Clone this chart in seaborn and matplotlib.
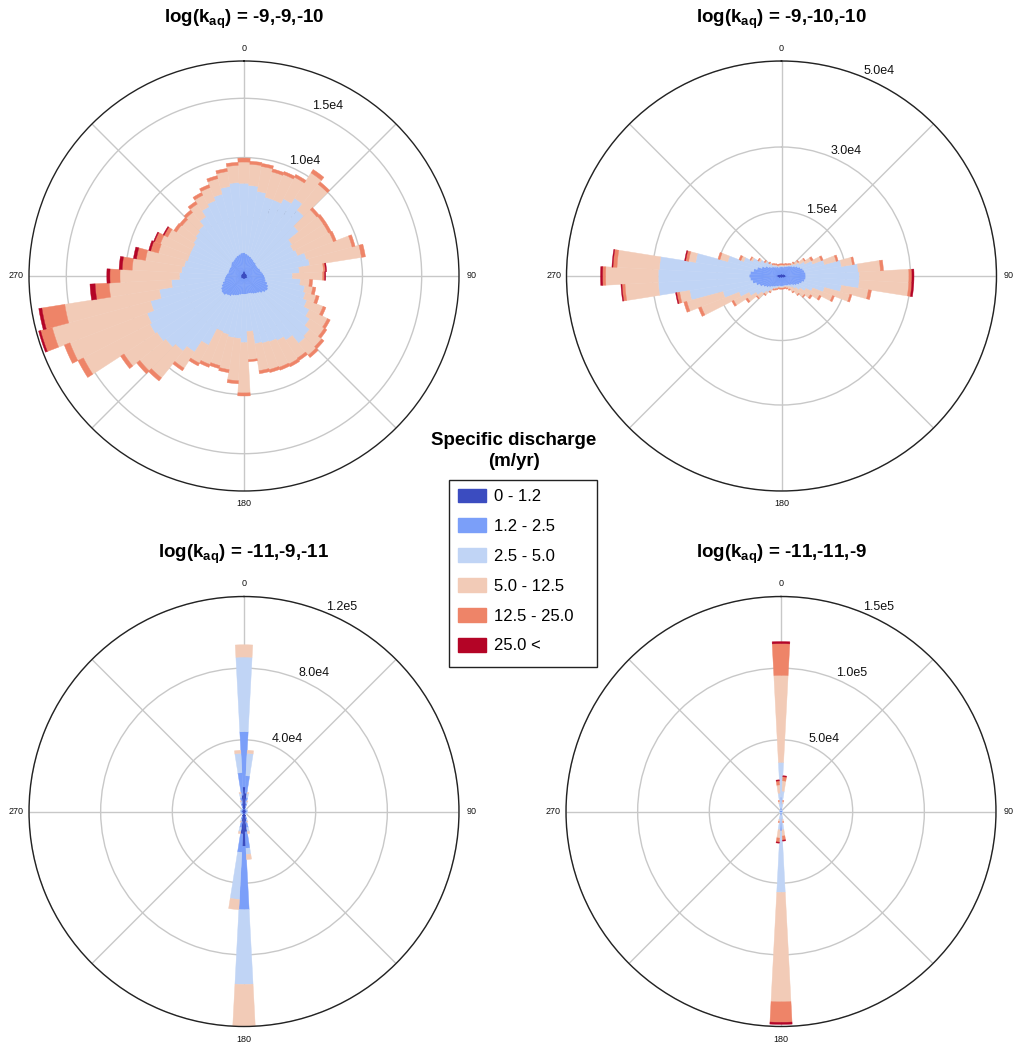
import numpy as np
import matplotlib
matplotlib.use("Agg")
import matplotlib.pyplot as plt
import seaborn as sns
from matplotlib.patches import Patch, Rectangle

sns.set_theme(style="white")
plt.rcParams["font.family"] = ["Liberation Sans", "DejaVu Sans"]
plt.rcParams["text.color"] = "black"
plt.rcParams["mathtext.fontset"] = "custom"
plt.rcParams["mathtext.rm"] = "Liberation Sans"
plt.rcParams["mathtext.bf"] = "Liberation Sans:bold"
plt.rcParams["mathtext.it"] = "Liberation Sans:italic"

# 60 direction sectors of 6 degrees, clockwise from north
directions = np.arange(0, 360, 6)
classes = ["0 - 1.2", "1.2 - 2.5", "2.5 - 5.0", "5.0 - 12.5", "12.5 - 25.0", "25.0 <"]

# ---- log(k_aq) = -9,-9,-10 : counts per direction and discharge class ----
p1_q1 = [510, 420, 340, 340, 260, 260, 260, 260, 260, 260,
         260, 260, 260, 260, 260, 260, 260, 260, 260, 340,
         340, 340, 260, 260, 260, 260, 260, 260, 260, 260,
         260, 260, 260, 260, 260, 260, 260, 260, 340, 340,
         340, 260, 260, 260, 260, 260, 260, 260, 260, 260,
         260, 260, 260, 260, 260, 260, 260, 340, 340, 420]
p1_q2 = [1450, 1450, 1450, 1360, 1360, 1280, 1190, 1190, 1100, 1100,
         1100, 1190, 1190, 1280, 1360, 1450, 1530, 1620, 1790, 1870,
         1960, 1870, 1790, 1620, 1530, 1450, 1360, 1280, 1280, 1280,
         1280, 1280, 1360, 1450, 1530, 1620, 1790, 1870, 1960, 1960,
         1870, 1790, 1620, 1450, 1360, 1280, 1190, 1100, 1100, 1100,
         1100, 1100, 1190, 1280, 1280, 1360, 1450, 1450, 1530, 1530]
p1_q3 = [5870, 5780, 5440, 5190, 5270, 5780, 6380, 5700, 4590, 3490,
         3320, 3400, 4000, 4080, 3060, 2380, 2980, 3320, 3320, 3490,
         3910, 4420, 5100, 5440, 4680, 4420, 4340, 4340, 4250, 3150,
         4080, 3740, 3660, 3400, 3230, 4680, 5610, 6040, 6210, 6460,
         6720, 6720, 6290, 5530, 4510, 3910, 3830, 3740, 3570, 3570,
         3570, 3740, 3830, 3910, 4420, 4930, 5100, 5360, 5780, 5950]
p1_q4 = [1790, 1790, 2130, 2210, 2300, 2040, 2550, 2810, 1960, 3150,
         3320, 3230, 4000, 4420, 2040, 2550, 770, 680, 940, 1450,
         1700, 1450, 1280, 1280, 1790, 2210, 2300, 2300, 2300, 2380,
         4250, 3570, 2720, 2720, 2980, 1700, 1620, 2890, 2810, 3320,
         6290, 6970, 8590, 8080, 5270, 5020, 4170, 3320, 2550, 2640,
         2300, 1700, 1450, 1450, 1280, 1100, 1190, 1360, 1280, 1450]
p1_q5 = [340, 260, 260, 260, 260, 260, 340, 260, 260, 260,
         260, 260, 260, 340, 170, 170, 260, 260, 260, 260,
         260, 260, 260, 260, 260, 260, 260, 260, 260, 170,
         260, 260, 260, 260, 260, 260, 260, 340, 340, 340,
         510, 510, 1020, 1960, 1190, 850, 850, 770, 680, 510,
         340, 260, 260, 260, 260, 260, 260, 260, 260, 260]
p1_q6 = [0, 0, 0, 0, 0, 0, 0, 0, 0, 0,
         0, 0, 0, 0, 90, 90, 0, 0, 0, 0,
         0, 0, 0, 0, 0, 0, 0, 0, 0, 0,
         0, 0, 0, 0, 0, 0, 0, 0, 0, 0,
         0, 0, 170, 260, 430, 260, 260, 260, 170, 90,
         90, 0, 0, 0, 0, 0, 0, 0, 0, 0]

# ---- log(k_aq) = -9,-10,-10 ----
p2_q1 = [470, 470, 470, 470, 470, 470, 470, 470, 710, 710,
         710, 710, 940, 940, 940, 1180, 1180, 940, 940, 940,
         710, 710, 710, 470, 470, 470, 470, 470, 470, 470,
         470, 470, 470, 470, 470, 470, 470, 710, 710, 710,
         710, 940, 940, 940, 1180, 1180, 1180, 940, 940, 710,
         710, 710, 470, 470, 470, 470, 470, 470, 470, 470]
p2_q2 = [1650, 1650, 1650, 1880, 1880, 2120, 2350, 2590, 2590, 3060,
         3530, 4000, 4230, 4470, 4700, 4470, 4470, 4470, 4000, 3530,
         3290, 2820, 2350, 2350, 2120, 2120, 1880, 1880, 1880, 1880,
         1880, 1880, 1880, 2120, 2120, 2350, 2590, 2590, 3060, 3530,
         4000, 4470, 5170, 5880, 6110, 6350, 6110, 5640, 4940, 4230,
         3530, 2820, 2590, 2350, 2120, 1880, 1880, 1650, 1650, 1650]
p2_q3 = [240, 240, 240, 240, 240, 240, 240, 470, 710, 1180,
         1880, 3060, 5170, 8700, 12220, 12460, 12460, 8700, 5410, 3290,
         2350, 1650, 1180, 710, 470, 240, 240, 240, 240, 240,
         240, 240, 240, 240, 470, 470, 940, 1650, 2120, 2820,
         3760, 5170, 7990, 14810, 21390, 21150, 21150, 13630, 7050, 4470,
         3290, 2350, 1650, 940, 470, 470, 240, 240, 240, 240]
p2_q4 = [240, 240, 240, 240, 240, 240, 240, 470, 940, 1410,
         1650, 2120, 2820, 2590, 5170, 11520, 11520, 6350, 6110, 4940,
         3530, 2820, 2590, 2120, 1410, 710, 470, 240, 240, 240,
         240, 240, 240, 240, 240, 240, 470, 710, 1410, 2350,
         4000, 9400, 8700, 2350, 7760, 12220, 9870, 1650, 1880, 710,
         470, 470, 240, 240, 240, 240, 240, 240, 240, 240]
p2_q5 = [240, 240, 240, 240, 240, 240, 240, 240, 240, 240,
         470, 470, 470, 470, 710, 710, 710, 710, 470, 470,
         470, 470, 240, 240, 240, 240, 240, 240, 240, 240,
         240, 240, 240, 240, 240, 240, 240, 240, 240, 470,
         470, 710, 710, 710, 710, 710, 940, 710, 470, 470,
         240, 240, 240, 240, 240, 240, 240, 240, 240, 240]
p2_q6 = [0, 0, 0, 0, 0, 0, 0, 0, 0, 0,
         0, 0, 0, 0, 0, 470, 470, 0, 0, 0,
         0, 0, 0, 0, 0, 0, 0, 0, 0, 0,
         0, 0, 0, 0, 0, 0, 0, 0, 0, 0,
         0, 0, 0, 240, 240, 470, 240, 240, 0, 0,
         0, 0, 0, 0, 0, 0, 0, 0, 0, 0]

# ---- log(k_aq) = -11,-9,-11 ----
p3_q1 = [13700, 10280, 4570, 2280, 1140, 1140, 1140, 1140, 1140, 1140,
         1140, 1140, 1140, 1140, 1140, 1140, 1140, 1140, 1140, 1140,
         1140, 1140, 1140, 1140, 1140, 1140, 1140, 2860, 5710, 11420,
         19410, 12560, 5710, 2860, 1140, 1140, 1140, 1140, 1140, 1140,
         1140, 1140, 1140, 1140, 1140, 1140, 1140, 1140, 1140, 1140,
         1140, 1140, 1140, 1140, 1140, 1140, 1140, 2280, 4570, 9140]
p3_q2 = [30830, 9710, 3430, 2280, 570, 570, 570, 570, 570, 570,
         570, 570, 570, 570, 570, 570, 570, 570, 570, 570,
         570, 570, 570, 570, 570, 570, 570, 1710, 3430, 9140,
         35400, 10280, 3430, 1710, 570, 570, 570, 570, 570, 570,
         570, 570, 570, 570, 570, 570, 570, 570, 570, 570,
         570, 570, 570, 570, 570, 570, 570, 2280, 3430, 12560]
p3_q3 = [41680, 12560, 2280, 1140, 290, 290, 290, 290, 290, 290,
         290, 290, 290, 290, 290, 290, 290, 290, 290, 290,
         290, 290, 290, 290, 290, 290, 290, 1140, 2280, 3430,
         41680, 26270, 2280, 1140, 290, 290, 290, 290, 290, 290,
         290, 290, 290, 290, 290, 290, 290, 290, 290, 290,
         290, 290, 290, 290, 290, 290, 290, 1140, 2280, 10850]
p3_q4 = [6850, 1710, 570, 570, 0, 0, 0, 0, 0, 0,
         0, 0, 0, 0, 0, 0, 0, 0, 0, 0,
         0, 0, 0, 0, 0, 0, 0, 570, 1140, 2860,
         23980, 5710, 1140, 570, 0, 0, 0, 0, 0, 0,
         0, 0, 0, 0, 0, 0, 0, 0, 0, 0,
         0, 0, 0, 0, 0, 0, 0, 570, 570, 1710]
p3_q5 = [0, 0, 0, 0, 0, 0, 0, 0, 0, 0,
         0, 0, 0, 0, 0, 0, 0, 0, 0, 0,
         0, 0, 0, 0, 0, 0, 0, 0, 0, 0,
         1710, 0, 0, 0, 0, 0, 0, 0, 0, 0,
         0, 0, 0, 0, 0, 0, 0, 0, 0, 0,
         0, 0, 0, 0, 0, 0, 0, 0, 0, 0]
p3_q6 = [0, 0, 0, 0, 0, 0, 0, 0, 0, 0,
         0, 0, 0, 0, 0, 0, 0, 0, 0, 0,
         0, 0, 0, 0, 0, 0, 0, 0, 0, 0,
         0, 0, 0, 0, 0, 0, 0, 0, 0, 0,
         0, 0, 0, 0, 0, 0, 0, 0, 0, 0,
         0, 0, 0, 0, 0, 0, 0, 0, 0, 0]

# ---- log(k_aq) = -11,-11,-9 ----
p4_q1 = [1430, 710, 710, 500, 500, 500, 500, 500, 500, 500,
         500, 500, 500, 500, 500, 500, 500, 500, 500, 500,
         500, 500, 500, 500, 500, 500, 500, 500, 710, 710,
         1430, 710, 710, 500, 500, 500, 500, 500, 500, 500,
         500, 500, 500, 500, 500, 500, 500, 500, 500, 500,
         500, 500, 500, 500, 500, 500, 500, 500, 710, 710]
p4_q2 = [8570, 2140, 1430, 360, 360, 360, 360, 360, 360, 360,
         360, 360, 360, 360, 360, 360, 360, 360, 360, 360,
         360, 360, 360, 360, 360, 360, 360, 360, 1430, 2140,
         12140, 2140, 1430, 360, 360, 360, 360, 360, 360, 360,
         360, 360, 360, 360, 360, 360, 360, 360, 360, 360,
         360, 360, 360, 360, 360, 360, 360, 360, 1430, 2140]
p4_q3 = [24280, 11420, 3570, 360, 360, 360, 360, 360, 360, 360,
         360, 360, 360, 360, 360, 360, 360, 360, 360, 360,
         360, 360, 360, 360, 360, 360, 360, 360, 3570, 10000,
         42840, 10000, 3570, 360, 360, 360, 360, 360, 360, 360,
         360, 360, 360, 360, 360, 360, 360, 360, 360, 360,
         360, 360, 360, 360, 360, 360, 360, 360, 3570, 10000]
p4_q4 = [60690, 7140, 1430, 0, 0, 0, 0, 0, 0, 0,
         0, 0, 0, 0, 0, 0, 0, 0, 0, 0,
         0, 0, 0, 0, 0, 0, 0, 0, 1430, 4280,
         76400, 5710, 1430, 0, 0, 0, 0, 0, 0, 0,
         0, 0, 0, 0, 0, 0, 0, 0, 0, 0,
         0, 0, 0, 0, 0, 0, 0, 0, 1430, 5710]
p4_q5 = [22130, 2860, 710, 0, 0, 0, 0, 0, 0, 0,
         0, 0, 0, 0, 0, 0, 0, 0, 0, 0,
         0, 0, 0, 0, 0, 0, 0, 0, 710, 2860,
         14280, 2860, 710, 0, 0, 0, 0, 0, 0, 0,
         0, 0, 0, 0, 0, 0, 0, 0, 0, 0,
         0, 0, 0, 0, 0, 0, 0, 0, 710, 2860]
p4_q6 = [1430, 710, 0, 0, 0, 0, 0, 0, 0, 0,
         0, 0, 0, 0, 0, 0, 0, 0, 0, 0,
         0, 0, 0, 0, 0, 0, 0, 0, 0, 710,
         1430, 710, 0, 0, 0, 0, 0, 0, 0, 0,
         0, 0, 0, 0, 0, 0, 0, 0, 0, 0,
         0, 0, 0, 0, 0, 0, 0, 0, 0, 710]

titles = ["-9,-9,-10", "-9,-10,-10", "-11,-9,-11", "-11,-11,-9"]
r_ticks = [[5000, 10000, 15000], [15000, 30000, 50000],
           [40000, 80000, 120000], [50000, 100000, 150000]]
r_labels = [["5.0e3", "1.0e4", "1.5e4"], ["1.5e4", "3.0e4", "5.0e4"],
            ["4.0e4", "8.0e4", "1.2e5"], ["5.0e4", "1.0e5", "1.5e5"]]
r_max = [18150, 50000, 120000, 150000]

tables = [
    [p1_q1, p1_q2, p1_q3, p1_q4, p1_q5, p1_q6],
    [p2_q1, p2_q2, p2_q3, p2_q4, p2_q5, p2_q6],
    [p3_q1, p3_q2, p3_q3, p3_q4, p3_q5, p3_q6],
    [p4_q1, p4_q2, p4_q3, p4_q4, p4_q5, p4_q6],
]

colors = sns.color_palette("coolwarm", as_cmap=True)(np.linspace(0, 1, 6))

W, H = 1014, 1047
fig = plt.figure(figsize=(W / 100, H / 100), dpi=100)
fig.patch.set_facecolor("white")

RAD = 215
centers = [(244, 276), (781.5, 276), (244, 811.5), (781, 811.5)]
title_y = [19, 19, 554, 554]

theta = np.deg2rad(directions)
width = np.deg2rad(6)

for i in range(4):
    cx, cy = centers[i]
    ax = fig.add_axes([(cx - RAD) / W, (H - cy - RAD) / H, 2 * RAD / W, 2 * RAD / H],
                      projection="polar")
    ax.set_facecolor("white")
    ax.set_theta_zero_location("N")
    ax.set_theta_direction(-1)
    bottom = np.zeros(len(directions))
    for k in range(6):
        vals = np.asarray(tables[i][k], dtype=float)
        shown = vals > 0
        ax.bar(theta[shown], vals[shown], width=width, bottom=bottom[shown],
               color=colors[k], edgecolor=colors[k], linewidth=0.3, align="center")
        bottom += vals
    ax.set_rgrids(r_ticks[i], r_labels[i], angle=22.5, fontsize=9, color="#111111")
    ax.set_ylim(0, r_max[i])
    ax.set_thetagrids(range(0, 360, 45),
                      ["0", "", "90", "", "180", "", "270", ""],
                      fontsize=6.5, color="#111111")
    ax.tick_params(axis="x", pad=-4)
    ax.grid(True, color="#c8c8c8", linewidth=1.0)
    ax.spines["polar"].set_color("#222222")
    ax.spines["polar"].set_linewidth(1.0)

    fig.text(cx / W, 1 - title_y[i] / H, r"log(k$_{\mathbf{aq}}$) = " + titles[i],
             ha="center", va="center", fontsize=13.5, fontweight="bold")

# shared legend for discharge classes
fig.text(514 / W, 1 - 451 / H, "Specific discharge\n(m/yr)", ha="center", va="center",
         fontsize=13.5, fontweight="bold", linespacing=1.25)
fig.add_artist(Rectangle((449 / W, 1 - 667 / H), 148 / W, 187 / H,
                         transform=fig.transFigure, facecolor="white",
                         edgecolor="#222222", linewidth=1.0, zorder=1))
handles = [Patch(facecolor=colors[k], edgecolor=colors[k]) for k in range(6)]
leg = fig.legend(handles, classes, loc="upper left",
                 bbox_to_anchor=(451 / W, 1 - 482 / H), frameon=False,
                 fontsize=12, handlelength=1.68, handleheight=0.9, labelspacing=0.85,
                 borderpad=0.4, handletextpad=0.48, borderaxespad=0)
leg.set_zorder(2)

fig.savefig("out.png", dpi=100, facecolor="white")
